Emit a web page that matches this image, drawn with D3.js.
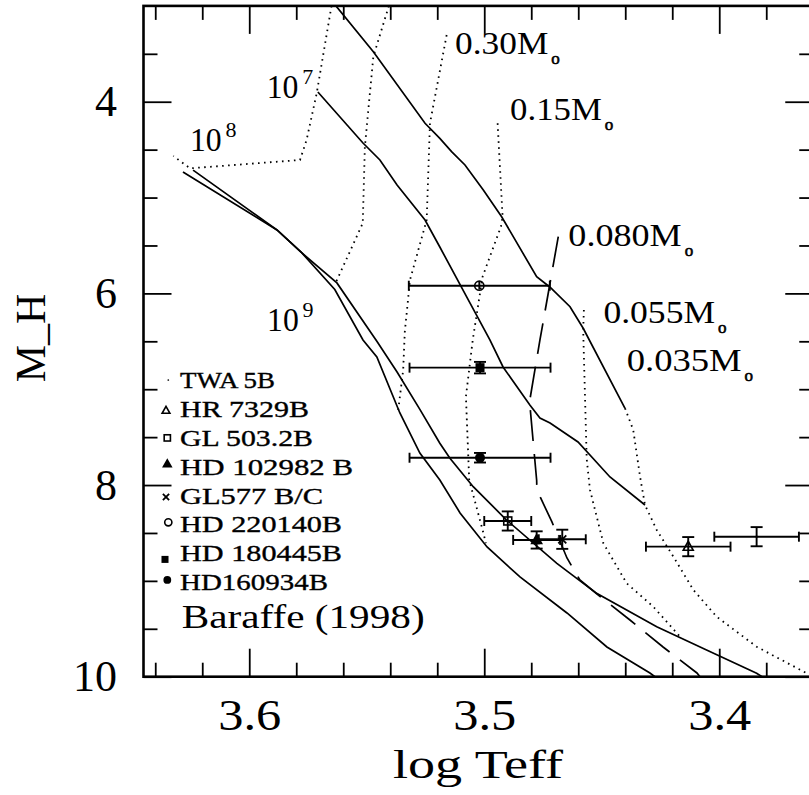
<!DOCTYPE html>
<html><head><meta charset="utf-8">
<script src="https://cdn.jsdelivr.net/npm/d3@7"></script>
<style>body{margin:0;background:#fff}svg{display:block}</style>
</head><body>
<svg id="chart" width="809" height="795"></svg>
<script>
// ---------------- DATA ----------------
const xDomain = [3.645, 3.36];
const yDomain = [3, 10];
const xMajorTicks = [3.6, 3.5, 3.4];
const xMinorTicks = [3.64, 3.62, 3.58, 3.56, 3.54, 3.52, 3.48, 3.46, 3.44, 3.42, 3.38];
const yMajorTicks = [4, 6, 8, 10];
const yMinorTicks = [3.5, 4.5, 5, 5.5, 6.5, 7, 7.5, 8.5, 9, 9.5];

// isochrones (solid)  [logTeff, M_H]
const isoYoung = [[3.5631,3.0],[3.5472,3.478],[3.5252,4.225],[3.5189,4.382],[3.5139,4.521],[3.5082,4.660],[3.5004,4.921],[3.4926,5.200],[3.4777,5.826],[3.4720,5.936],[3.4635,6.139],[3.4579,6.364],[3.4401,7.199]];
const iso1e7 = [[3.5708,3.898],[3.5516,4.431],[3.5444,4.608],[3.5371,4.869],[3.5252,5.234],[3.5189,5.516],[3.5061,6.100],[3.4976,6.486],[3.4920,6.768],[3.4806,7.165],[3.4763,7.300],[3.4720,7.353],[3.4601,7.551],[3.4465,7.916],[3.4316,8.208]];
const iso1e8 = [[3.6239,4.714],[3.5882,5.338],[3.5776,5.578],[3.5627,5.891],[3.5457,6.50],[3.5371,6.82],[3.5274,7.21],[3.5189,7.564],[3.5146,7.72],[3.5047,8.017],[3.4905,8.365],[3.4691,8.817],[3.4522,9.130],[3.4266,9.478],[3.4054,9.721],[3.3841,9.964],[3.3818,10.0]];
const iso1e9 = [[3.6282,4.733],[3.5882,5.338],[3.5776,5.578],[3.5636,5.96],[3.5516,6.486],[3.5457,6.664],[3.5359,7.248],[3.5274,7.666],[3.5189,7.947],[3.5103,8.291],[3.4988,8.646],[3.4848,8.959],[3.4648,9.335],[3.4478,9.690],[3.4295,9.961],[3.4274,10.0]];

// mass tracks (dotted / dashed)
const trackHigh1 = [[3.5650,3.0],[3.5713,3.912],[3.5756,4.399],[3.5784,4.608],[3.6252,4.695],[3.6323,4.566]];
const trackHigh2 = [[3.5406,3.0],[3.5472,3.530],[3.5508,4.469],[3.5517,5.268],[3.5630,5.878]];
const track030 = [[3.5160,3.304],[3.5231,4.225],[3.5245,5.234],[3.5316,5.860],[3.5338,6.40],[3.5345,6.800],[3.5366,7.217]];
const track015 = [[3.4943,4.225],[3.4922,5.200],[3.4929,5.303],[3.5007,5.825],[3.5049,6.486],[3.5078,7.078],[3.5064,7.947],[3.5007,8.469],[3.4993,8.608]];
const track0080 = [[3.4685,5.408],[3.4763,6.486],[3.4806,7.112],[3.4806,7.16],[3.4777,7.95],[3.4776,8.051],[3.4712,8.385],[3.4648,8.761],[3.4593,8.991],[3.4520,9.137],[3.4380,9.408],[3.4239,9.690],[3.4095,9.961],[3.4082,10.0]];
const track0055 = [[3.4576,6.173],[3.4579,6.382],[3.4564,7.730],[3.4550,8.051],[3.4493,8.608],[3.4394,9.025],[3.4281,9.269],[3.4167,9.582]];
const track0035 = [[3.4401,7.199],[3.4366,7.425],[3.4337,7.913],[3.4316,8.208],[3.4266,8.469],[3.4195,8.748],[3.4110,9.095],[3.4011,9.374],[3.3841,9.687],[3.3628,9.964]];

// observed companions
const starNames = ["TWA 5B","HR 7329B","GL 503.2B","HD 102982 B","GL577 B/C","HD 220140B","HD 180445B","HD160934B"];
const starLogT  = [3.3841, 3.4132, 3.4900, 3.4777, 3.4668, 3.5021, 3.5018, 3.5018];
const starMH    = [8.539, 8.643, 8.375, 8.573, 8.566, 5.920, 6.775, 7.715];
const starXErr  = [0.018, 0.018, 0.010, 0.010, 0.010, 0.030, 0.030, 0.030];
const starYErr  = [0.10, 0.10, 0.10, 0.09, 0.10, 0.04, 0.06, 0.05];
const starSymbols = ["dot","triangle","square","triangleFilled","cross","circle","squareFilled","circleFilled"];

// annotations
const ageBase = ["10","10","10"];
const ageExp = ["7","8","9"];
const ageAnchor = [[3.5926,3.964],[3.6252,4.511],[3.5924,6.392]];
const massLabels = ["0.30M","0.15M","0.080M","0.055M","0.035M"];
const massAnchor = [[3.5124,3.505],[3.4890,4.191],[3.4642,5.505],[3.4493,6.306],[3.4394,6.807]];
const modelLabel = "Baraffe (1998)";
const xTitle = "log Teff";
const yTitle = "M_H";

// ---------------- DRAW ----------------
const FONT = "'Liberation Serif','Times New Roman',serif";
const svg = d3.select("#chart");
const x = d3.scaleLinear().domain(xDomain).range([143.5, 813.25]);
const y = d3.scaleLinear().domain(yDomain).range([5.9, 676.7]);
const X0 = x(xDomain[0]), X1 = x(xDomain[1]), Y0 = y(yDomain[0]), Y1 = y(yDomain[1]);

svg.append("rect").attr("width",809).attr("height",795).attr("fill","#fff");
svg.append("defs").append("clipPath").attr("id","clip")
  .append("rect").attr("x",X0).attr("y",Y0).attr("width",X1-X0).attr("height",Y1-Y0);

function clean(g){ g.select(".domain").remove(); g.selectAll(".tick line").attr("stroke","#000").attr("stroke-width",1.8); }

// bottom
svg.append("g").attr("transform",`translate(0,${Y1})`)
  .call(d3.axisBottom(x).tickValues(xMajorTicks).tickSize(-28).tickPadding(22).tickFormat(d3.format(".1f")))
  .call(clean)
  .call(g=>g.selectAll("text").attr("font-family",FONT).attr("font-size",44).attr("fill","#000")
        .attr("textLength",63).attr("lengthAdjust","spacingAndGlyphs"));
svg.append("g").attr("transform",`translate(0,${Y1})`)
  .call(d3.axisBottom(x).tickValues(xMinorTicks).tickSize(-14).tickFormat("")).call(clean);
// top
svg.append("g").attr("transform",`translate(0,${Y0})`)
  .call(d3.axisTop(x).tickValues(xMajorTicks).tickSize(-28).tickFormat("")).call(clean);
svg.append("g").attr("transform",`translate(0,${Y0})`)
  .call(d3.axisTop(x).tickValues(xMinorTicks).tickSize(-14).tickFormat("")).call(clean);
// left
svg.append("g").attr("transform",`translate(${X0},0)`)
  .call(d3.axisLeft(y).tickValues(yMajorTicks).tickSize(-28).tickPadding(26.5).tickFormat(d3.format("d")))
  .call(clean)
  .call(g=>g.selectAll("text").attr("font-family",FONT).attr("font-size",44).attr("fill","#000"));
svg.append("g").attr("transform",`translate(${X0},0)`)
  .call(d3.axisLeft(y).tickValues(yMinorTicks).tickSize(-14).tickFormat("")).call(clean);
// right
svg.append("g").attr("transform",`translate(${X1},0)`)
  .call(d3.axisRight(y).tickValues(yMajorTicks).tickSize(-28).tickFormat("")).call(clean);
svg.append("g").attr("transform",`translate(${X1},0)`)
  .call(d3.axisRight(y).tickValues(yMinorTicks).tickSize(-14).tickFormat("")).call(clean);

// frame
svg.append("rect").attr("x",X0).attr("y",Y0).attr("width",X1-X0).attr("height",Y1-Y0)
  .attr("fill","none").attr("stroke","#000").attr("stroke-width",2.6);

// curves
const line = d3.line().x(d=>x(d[0])).y(d=>y(d[1]));
const plot = svg.append("g").attr("clip-path","url(#clip)");
[isoYoung, iso1e7, iso1e8, iso1e9].forEach(c=>{
  plot.append("path").attr("d",line(c)).attr("fill","none").attr("stroke","#000").attr("stroke-width",1.7);
});
[trackHigh1, trackHigh2, track030, track015, track0055, track0035].forEach(c=>{
  plot.append("path").attr("d",line(c)).attr("fill","none").attr("stroke","#000")
    .attr("stroke-width",1.8).attr("stroke-dasharray","1.6 4.4");
});
plot.append("path").attr("d",line(track0080)).attr("fill","none").attr("stroke","#000")
  .attr("stroke-width",1.7).attr("stroke-dasharray","31 13");

// markers
function drawMarker(g, type, cx, cy, s){
  const sw = 1.6;
  if(type==="dot") g.append("circle").attr("cx",cx).attr("cy",cy).attr("r",1.1*s).attr("fill","#000");
  else if(type==="circle") g.append("circle").attr("cx",cx).attr("cy",cy).attr("r",4.6*s).attr("fill","none").attr("stroke","#000").attr("stroke-width",sw);
  else if(type==="circleFilled") g.append("circle").attr("cx",cx).attr("cy",cy).attr("r",5*s).attr("fill","#000");
  else if(type==="square") g.append("rect").attr("x",cx-4*s).attr("y",cy-4*s).attr("width",8*s).attr("height",8*s).attr("fill","none").attr("stroke","#000").attr("stroke-width",sw);
  else if(type==="squareFilled") g.append("rect").attr("x",cx-4.5*s).attr("y",cy-4.5*s).attr("width",9*s).attr("height",9*s).attr("fill","#000");
  else if(type==="triangle"||type==="triangleFilled"){
    const h=9*s, w=10*s;
    const p=`M${cx},${cy-h*0.6}L${cx+w/2},${cy+h*0.4}L${cx-w/2},${cy+h*0.4}Z`;
    g.append("path").attr("d",p).attr("fill",type==="triangle"?"none":"#000").attr("stroke","#000").attr("stroke-width",sw);
  }
  else if(type==="cross"){
    const r=4*s;
    g.append("path").attr("d",`M${cx-r},${cy-r}L${cx+r},${cy+r}M${cx-r},${cy+r}L${cx+r},${cy-r}`)
      .attr("stroke","#000").attr("stroke-width",1.8);
  }
}

// error bars + points
const pts = svg.append("g");
starNames.forEach((n,i)=>{
  const cx=x(starLogT[i]), cy=y(starMH[i]);
  const xl=x(starLogT[i]+starXErr[i]), xr=x(starLogT[i]-starXErr[i]);
  const yt=y(starMH[i]-starYErr[i]), yb=y(starMH[i]+starYErr[i]);
  const eb = pts.append("g").attr("stroke","#000").attr("stroke-width",1.9).attr("fill","none");
  eb.append("line").attr("x1",xl).attr("x2",xr).attr("y1",cy).attr("y2",cy);
  eb.append("line").attr("x1",xl).attr("x2",xl).attr("y1",cy-5).attr("y2",cy+5);
  eb.append("line").attr("x1",xr).attr("x2",xr).attr("y1",cy-5).attr("y2",cy+5);
  eb.append("line").attr("x1",cx).attr("x2",cx).attr("y1",yt).attr("y2",yb);
  const cw = starYErr[i] >= 0.05 ? 6 : 0;
  if(cw){
    eb.append("line").attr("x1",cx-cw).attr("x2",cx+cw).attr("y1",yt).attr("y2",yt);
    eb.append("line").attr("x1",cx-cw).attr("x2",cx+cw).attr("y1",yb).attr("y2",yb);
  }
  drawMarker(pts, starSymbols[i], cx, cy, 1);
});

// legend
const legBase = 388.3, legStep = 28.8;
const legWidths = [95,129,133,173,143,162,162,148];
const legSymDy = [-8.3,-6.6,-8,-10.7,-6.6,-10,-1.7,-10];
const legSymX = [168.3,166,167.3,167.3,166,168.3,165,167.3];
const leg = svg.append("g");
starNames.forEach((n,i)=>{
  const by = legBase + i*legStep;
  leg.append("text").attr("x",180).attr("y",by).text(n)
    .attr("font-family",FONT).attr("font-size",23).attr("fill","#000")
    .attr("stroke","#000").attr("stroke-width",0.35)
    .attr("textLength",legWidths[i]).attr("lengthAdjust","spacingAndGlyphs");
  drawMarker(leg, starSymbols[i], legSymX[i], by+legSymDy[i], 0.78);
});
leg.append("text").attr("x",181.7).attr("y",628.3).text(modelLabel)
  .attr("font-family",FONT).attr("font-size",33).attr("fill","#000")
  .attr("textLength",243).attr("lengthAdjust","spacingAndGlyphs");

// age labels
const ann = svg.append("g").attr("font-family",FONT).attr("fill","#000");
ageBase.forEach((b,i)=>{
  const ax=x(ageAnchor[i][0]), ay=y(ageAnchor[i][1]);
  ann.append("text").attr("x",ax).attr("y",ay).attr("font-size",33).text(b)
    .attr("textLength",31.7).attr("lengthAdjust","spacingAndGlyphs");
  ann.append("text").attr("x",ax+35.5).attr("y",ay-14).attr("font-size",22).text(ageExp[i]);
});
// mass labels
const massWidths = [93.3,91.7,113.3,111.7,115];
massLabels.forEach((m,i)=>{
  const ax=x(massAnchor[i][0]), ay=y(massAnchor[i][1]);
  ann.append("text").attr("x",ax).attr("y",ay).attr("font-size",32).text(m)
    .attr("textLength",massWidths[i]).attr("lengthAdjust","spacingAndGlyphs");
  ann.append("text").attr("x",ax+massWidths[i]+7.2).attr("y",ay+9.8).attr("font-size",17)
    .attr("text-anchor","middle").attr("stroke","#000").attr("stroke-width",0.6).text("o");
});

// axis titles
svg.append("text").attr("x",393).attr("y",777.7).text(xTitle)
  .attr("font-family",FONT).attr("font-size",40).attr("fill","#000")
  .attr("textLength",170).attr("lengthAdjust","spacingAndGlyphs");
svg.append("text").attr("transform","translate(45,338) rotate(-90)").attr("text-anchor","middle")
  .text(yTitle).attr("font-family",FONT).attr("font-size",42).attr("fill","#000");
</script>
</body></html>
